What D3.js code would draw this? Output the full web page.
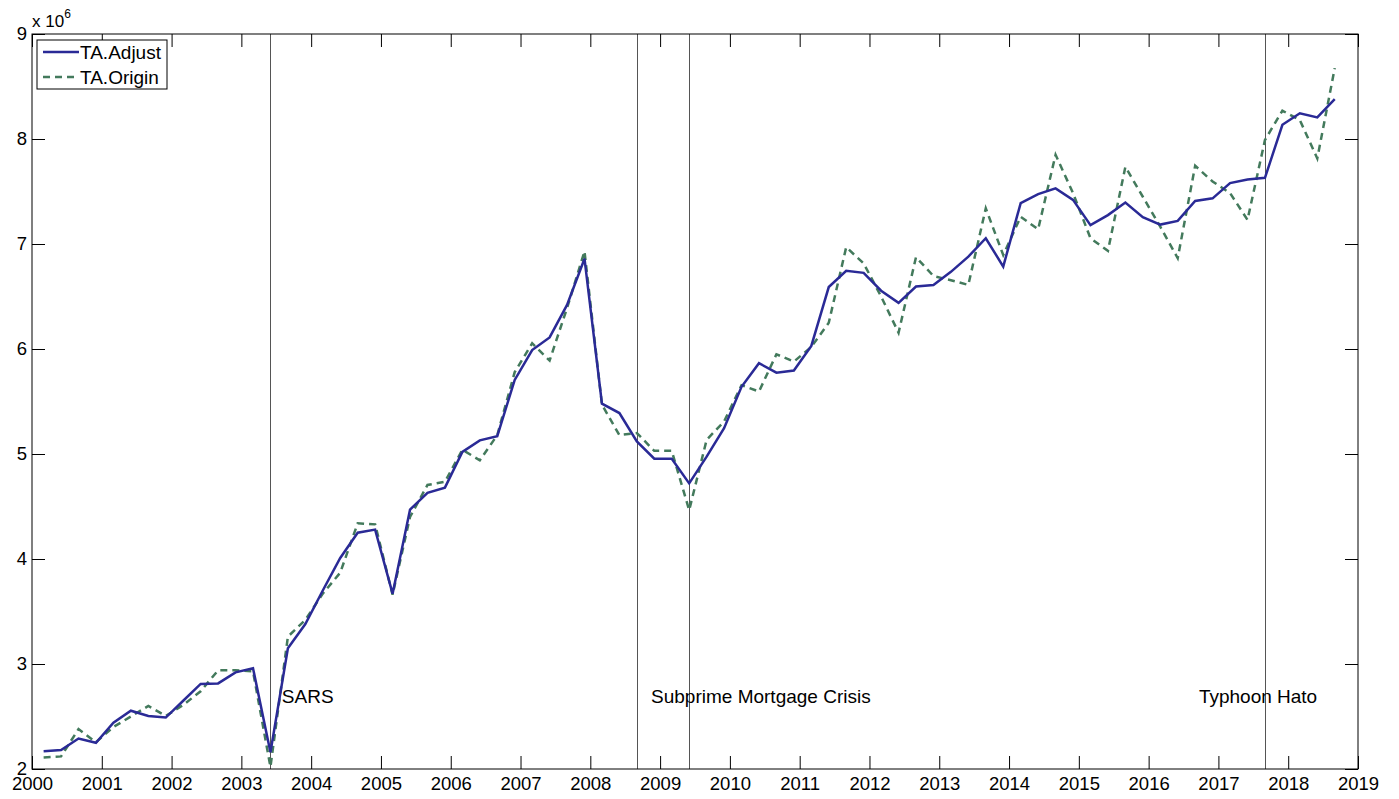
<!DOCTYPE html>
<html>
<head>
<meta charset="utf-8">
<script src="https://cdn.jsdelivr.net/npm/d3@7"></script>
<style>
  body { margin: 0; background: #fff; }
  text { font-family: "Liberation Sans", Arial, Helvetica, sans-serif; }
</style>
</head>
<body>
<svg width="1399" height="799"></svg>
<script>
// quarterly totals, 2000 Q1 .. 2018 Q3 (millions)
var adjust = [
  2.17, 2.18, 2.29, 2.25, 2.44, 2.555, 2.505, 2.49,
  2.65, 2.81, 2.815, 2.92, 2.96, 2.16, 3.15, 3.38,
  3.70, 4.01, 4.25, 4.28, 3.67, 4.47, 4.63, 4.68,
  5.02, 5.13, 5.17, 5.705, 5.99, 6.11, 6.42, 6.86,
  5.48, 5.39, 5.12, 4.955, 4.955, 4.72, 4.975, 5.245,
  5.64, 5.865, 5.775, 5.795, 6.03, 6.59, 6.745, 6.725,
  6.555, 6.44, 6.595, 6.61, 6.735, 6.88, 7.055, 6.785,
  7.39, 7.475, 7.53, 7.42, 7.18, 7.275, 7.395, 7.255,
  7.185, 7.22, 7.41, 7.435, 7.58, 7.615, 7.63, 8.135,
  8.245, 8.205, 8.38
];
var origin = [
  2.11, 2.12, 2.38, 2.255, 2.40, 2.50, 2.60, 2.505,
  2.61, 2.74, 2.94, 2.94, 2.93, 2.02, 3.26, 3.42,
  3.67, 3.87, 4.34, 4.33, 3.66, 4.40, 4.705, 4.735,
  5.04, 4.94, 5.18, 5.78, 6.055, 5.89, 6.39, 6.93,
  5.47, 5.18, 5.20, 5.03, 5.03, 4.465, 5.135, 5.31,
  5.655, 5.595, 5.95, 5.88, 6.02, 6.25, 6.97, 6.815,
  6.50, 6.155, 6.875, 6.695, 6.655, 6.61, 7.34, 6.895,
  7.26, 7.14, 7.85, 7.485, 7.055, 6.935, 7.735, 7.45,
  7.165, 6.865, 7.745, 7.595, 7.485, 7.23, 7.99, 8.27,
  8.18, 7.815, 8.675
];
var seriesNames = ["TA.Adjust", "TA.Origin"];
var yearTicks = d3.range(2000, 2020);
var valueTicks = [2, 3, 4, 5, 6, 7, 8, 9];

// event lines: index of the quarter they sit on
var events = [13, 34, 37, 70];
var eventLabels = [
  { text: "SARS", x: 2003.58, y: 2.69 },
  { text: "Subprime Mortgage Crisis", x: 2008.87, y: 2.69 },
  { text: "Typhoon Hato", x: 2016.72, y: 2.69 }
];

// quarter positions (mid-quarter month)
var dates = adjust.map((d, i) => 2000 + Math.floor(i / 4) + (3 * (i % 4) + 2) / 12);

var svg = d3.select("svg");
const width = +svg.attr("width");
const height = +svg.attr("height");
const margin = { top: 34, right: 41, bottom: 30, left: 32 };
const tickLen = 13;
const fontSize = 19;

var x = d3.scaleLinear().domain([2000, 2019]).range([margin.left, width - margin.right]);
var y = d3.scaleLinear().domain([2, 9]).range([height - margin.bottom, margin.top]);

var blue = "#2a2a96";
var green = "#437a5c";

// event lines
svg.append("g")
  .selectAll("line")
  .data(events)
  .enter()
  .append("line")
  .attr("x1", d => Math.round(x(dates[d])) + 0.5)
  .attr("x2", d => Math.round(x(dates[d])) + 0.5)
  .attr("y1", y(9))
  .attr("y2", y(2))
  .attr("stroke", "#555")
  .attr("stroke-width", 1);

svg.append("g")
  .selectAll("text")
  .data(eventLabels)
  .enter()
  .append("text")
  .attr("x", d => x(d.x))
  .attr("y", d => y(d.y))
  .attr("dy", "0.35em")
  .attr("font-size", fontSize)
  .text(d => d.text);

var line = d3.line()
  .x((d, i) => x(dates[i]))
  .y(d => y(d));

svg.append("path")
  .datum(origin)
  .attr("d", line)
  .attr("fill", "none")
  .attr("stroke", green)
  .attr("stroke-width", 2.5)
  .attr("stroke-dasharray", "7,5");

svg.append("path")
  .datum(adjust)
  .attr("d", line)
  .attr("fill", "none")
  .attr("stroke", blue)
  .attr("stroke-width", 2.5);

// axes, ticks pointing inward on all four sides
var axisB = d3.axisBottom(x).tickValues(yearTicks).tickFormat(d3.format("d"))
  .tickSizeInner(-tickLen).tickSizeOuter(0).tickPadding(8);
var axisT = d3.axisTop(x).tickValues(yearTicks).tickFormat("")
  .tickSizeInner(-tickLen).tickSizeOuter(0);
var axisL = d3.axisLeft(y).tickValues(valueTicks).tickFormat(d3.format("d"))
  .tickSizeInner(-tickLen).tickSizeOuter(0).tickPadding(5);
var axisR = d3.axisRight(y).tickValues(valueTicks).tickFormat("")
  .tickSizeInner(-tickLen).tickSizeOuter(0);

function styleAxis(g) {
  g.select(".domain").remove();
  g.selectAll(".tick line").attr("stroke", "#000");
  g.selectAll("text").attr("font-size", 18.5).attr("fill", "#000")
    .attr("font-family", "'Liberation Sans', Arial, sans-serif");
}

svg.append("g").attr("transform", "translate(0," + y(2) + ")").call(axisB).call(styleAxis);
svg.append("g").attr("transform", "translate(0," + y(9) + ")").call(axisT).call(styleAxis);
svg.append("g").attr("transform", "translate(" + x(2000) + ",0)").call(axisL).call(styleAxis);
svg.append("g").attr("transform", "translate(" + x(2019) + ",0)").call(axisR).call(styleAxis);

svg.append("rect")
  .attr("x", x(2000))
  .attr("y", y(9))
  .attr("width", x(2019) - x(2000))
  .attr("height", y(2) - y(9))
  .attr("fill", "none")
  .attr("stroke", "#000")
  .attr("stroke-width", 1);

// exponent label
var expo = svg.append("text")
  .attr("x", x(2000))
  .attr("y", y(9) - 7)
  .attr("font-size", 17);
expo.append("tspan").text("x 10");
expo.append("tspan").attr("dy", -9).attr("font-size", 12).text("6");

// legend
var legend = svg.append("g").attr("transform", "translate(37,40)");
legend.append("rect")
  .attr("width", 130)
  .attr("height", 49)
  .attr("fill", "#fff")
  .attr("stroke", "#000");

var entries = [
  { name: seriesNames[0], color: blue, dash: null },
  { name: seriesNames[1], color: green, dash: "7,5" }
];
var items = legend.selectAll("g.item")
  .data(entries)
  .enter()
  .append("g")
  .attr("class", "item")
  .attr("transform", (d, i) => "translate(0," + (12 + i * 25) + ")");
items.append("line")
  .attr("x1", 6)
  .attr("x2", 42)
  .attr("stroke", d => d.color)
  .attr("stroke-width", 2.5)
  .attr("stroke-dasharray", d => d.dash);
items.append("text")
  .attr("x", 43)
  .attr("dy", "0.35em")
  .attr("font-size", fontSize)
  .text(d => d.name);
</script>
</body>
</html>
